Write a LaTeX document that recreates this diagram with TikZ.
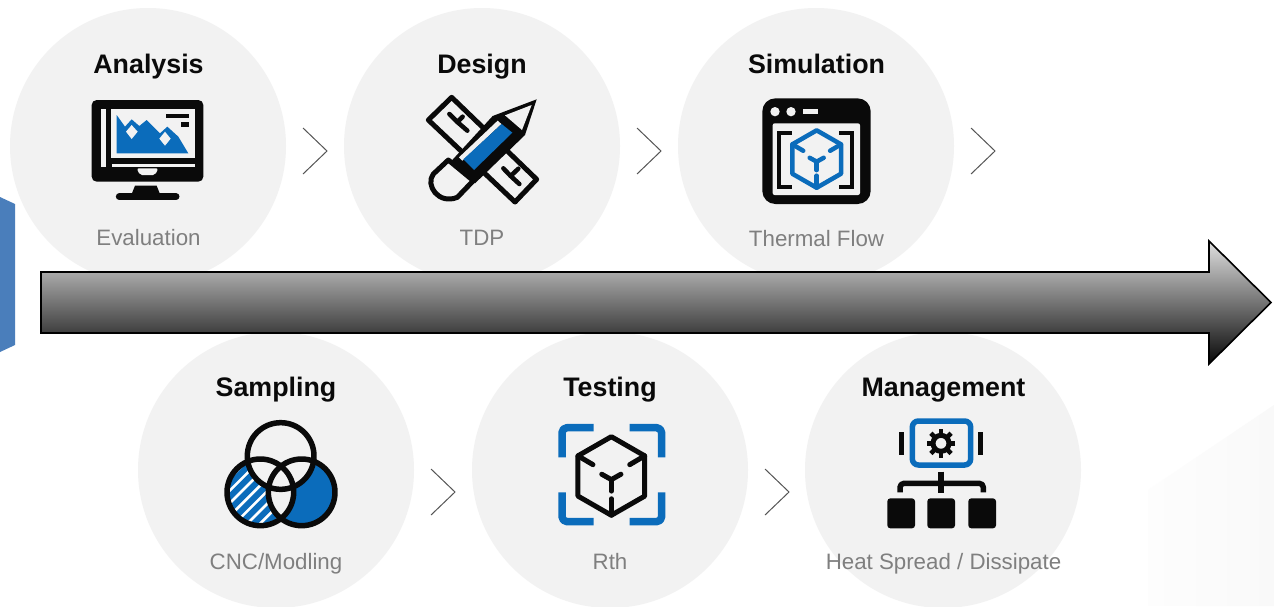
\documentclass[tikz,border=0pt]{standalone}
\usepackage{fontspec}
\setmainfont{Liberation Sans}
\definecolor{disc}{HTML}{F2F2F2}
\definecolor{ink}{HTML}{0A0A0A}
\definecolor{iblue}{HTML}{0B6CBB}
\definecolor{lab}{HTML}{7F7F7F}
\definecolor{side}{HTML}{4A7EBB}
\definecolor{chevc}{HTML}{555555}
\definecolor{arrowtop}{HTML}{E0E0E0}
\definecolor{arrowbot}{HTML}{080808}
\definecolor{faintA}{HTML}{FDFDFD}
\definecolor{faintB}{HTML}{F9F9F9}
\newcommand{\chev}[1]{\draw[chevline] (#1)+(0,-23) -- +(24,0) -- +(0,23);}
\newcommand{\cubeicon}[3]{%
  \begin{scope}[line join=round,line cap=round,draw=#1,line width=#3]
    \draw (0,-#2) -- (0.87*#2,-0.5*#2) -- (0.87*#2,0.55*#2) -- (0,1.05*#2) -- (-0.87*#2,0.55*#2) -- (-0.87*#2,-0.5*#2) -- cycle;
    \draw (-0.87*#2,-0.5*#2) -- (-0.48*#2,-0.27*#2);
    \draw (0.87*#2,-0.5*#2) -- (0.48*#2,-0.27*#2);
    \draw (0,1.05*#2) -- (0,0.62*#2);
    \draw (-0.25*#2,-0.02*#2) -- (0,0.12*#2) -- (0.25*#2,-0.02*#2);
    \draw (0,0.12*#2) -- (0,0.42*#2);
  \end{scope}}
\tikzset{
  x=1pt,y=-1pt,
  discnode/.style={circle,fill=disc,draw=none,minimum size=276pt,inner sep=0pt},
  titlelab/.style={anchor=base,inner sep=0pt,text=ink,font=\fontsize{26.8}{30}\selectfont\bfseries},
  sublab/.style={anchor=base,inner sep=0pt,text=lab,font=\fontsize{22.3}{26}\selectfont},
  chevline/.style={draw=chevc,line width=1pt,line join=miter},
  icon/.style={scale=1/3,line join=round},
}
\begin{document}
\begin{tikzpicture}
\useasboundingbox (0,0) rectangle (1274,606);
\fill[white] (0,0) rectangle (1274,606);
% faint corner
\shade[left color=faintA,right color=faintB] (1148,606) -- (1148,490) -- (1274,405) -- (1274,606) -- cycle;
% side tab
\fill[side] (0,197) -- (15,204) -- (15,345) -- (0,352) -- cycle;
% discs
\node[discnode] (dA) at (148,146) {};
\node[discnode] (dB) at (482,146) {};
\node[discnode] (dC) at (816,146) {};
\node[discnode] (dD) at (276,470) {};
\node[discnode] (dE) at (610,470) {};
\node[discnode] (dF) at (943,470) {};
% big arrow
\draw[draw=black,line width=1.6pt,line join=miter,top color=arrowtop,bottom color=arrowbot]
  (41,272) -- (1209,272) -- (1209,241) -- (1271,302.5) -- (1209,364) -- (1209,333) -- (41,333) -- cycle;
% chevrons
\coordinate (c1) at (303,151); \chev{c1}
\coordinate (c2) at (637,151); \chev{c2}
\coordinate (c3) at (971,151); \chev{c3}
\coordinate (c4) at (431,492); \chev{c4}
\coordinate (c5) at (765,492); \chev{c5}
% labels
\node[titlelab] (t1) at (148.5,73.5) {Analysis};
\node[titlelab] (t2) at (482,73.5) {Design};
\node[titlelab] (t3) at (816.5,73.5) {Simulation};
\node[titlelab] (t4) at (276,396.5) {Sampling};
\node[titlelab] (t5) at (610,396.5) {Testing};
\node[titlelab] (t6) at (943.5,396.5) {Management};
\node[sublab] (s1) at (148.5,245) {Evaluation};
\node[sublab] (s2) at (482,245) {TDP};
\node[sublab] (s3) at (816.5,246) {Thermal Flow};
\node[sublab] (s4) at (276,569) {CNC/Modling};
\node[sublab] (s5) at (610,569) {Rth};
\node[sublab] (s6) at (943.5,569) {Heat Spread / Dissipate};
% ---- Analysis icon
\begin{scope}[shift={(80,90)},icon]
  \fill[ink,rounded corners=5pt] (35,30) rectangle (370,275);
  \fill[ink] (165,287) -- (230,287) -- (240,312) -- (155,312) -- cycle;
  \draw[ink,line width=7pt,line cap=round] (118,320) -- (288,320);
  \fill[disc] (62,58) rectangle (78,232);
  \fill[disc] (92,58) rectangle (345,205);
  \fill[disc] (95,222) rectangle (345,232);
  \fill[disc,rounded corners=2pt] (170,235) -- (235,235) -- (225,255) -- (180,255) -- cycle;
  \fill[iblue] (110,75) -- (135,110) -- (155,88) -- (178,108) -- (200,90) -- (240,130) -- (262,110) -- (295,140) -- (325,190) -- (110,190) -- cycle;
  \fill[disc] (155,105) -- (173,125) -- (155,147) -- (138,125) -- cycle;
  \fill[disc] (255,125) -- (272,146) -- (255,167) -- (238,146) -- cycle;
  \fill[ink] (258,72) rectangle (327,84);
  \fill[ink] (303,97) rectangle (327,110);
\end{scope}
% ---- Design icon
\begin{scope}[shift={(420,90)},icon]
  \draw[ink,fill=disc,line width=5pt] (25,90) -- (95,22) -- (350,268) -- (285,336) -- cycle;
  \draw[ink,line width=4.5pt,line cap=round] (88,72) -- (112,96) -- (128,80);
  \draw[ink,line width=4.5pt,line cap=round] (112,96) -- (142,122);
  \draw[ink,line width=4.5pt,line cap=round] (250,235) -- (272,258) -- (295,236);
  \draw[ink,line width=4.5pt,line cap=round] (272,258) -- (298,282);
  % pencil: eraser, body, tip
  \draw[ink,fill=disc,line width=5pt] (85,210) -- (40,252) .. controls (15,285) and (55,345) .. (112,322) -- (160,272) -- cycle;
  \fill[ink] (218,78) -- (350,28) -- (315,135) -- (165,280) -- (95,212) -- cycle;
  \fill[disc] (255,76) -- (335,45) -- (306,120) -- cycle;
  \fill[disc] (233,92) -- (244,102) -- (127,212) -- (117,202) -- cycle;
  \fill[iblue] (245,102) -- (277,128) -- (162,240) -- (130,208) -- cycle;
  \draw[disc,line width=2.5pt] (82,225) -- (137,280);
\end{scope}
% ---- Simulation icon
\begin{scope}[shift={(750,90)},icon]
  \fill[ink,rounded corners=13pt] (37,25) rectangle (362,342);
  \fill[disc,rounded corners=2pt] (68,100) rectangle (330,315);
  \fill[disc] (75,65) circle[radius=14];
  \fill[disc] (123,65) circle[radius=14];
  \fill[disc] (158,57) rectangle (203,73);
  \draw[ink,line width=4pt,line join=miter] (125,130) -- (88,130) -- (88,290) -- (125,290);
  \draw[ink,line width=4pt,line join=miter] (268,130) -- (305,130) -- (305,290) -- (268,290);
  \begin{scope}[shift={(200,205)}]
    \cubeicon{iblue}{84}{4.5pt}
  \end{scope}
\end{scope}
% ---- Sampling icon
\begin{scope}[shift={(215,415)},icon]
  \begin{scope}
    \clip (136,232) circle[radius=100];
    \fill[white] (0,100) rectangle (260,350);
    \foreach \k in {0,...,12}
      \draw[iblue,line width=6pt] (-250+38*\k,350) -- (38*\k,100);
  \end{scope}
  \fill[iblue] (260,232) circle[radius=100];
  \fill[disc] (197,123) circle[radius=100];
  \begin{scope}
    \clip (136,232) circle[radius=100];
    \fill[disc] (260,232) circle[radius=100];
  \end{scope}
  \draw[ink,line width=5.5pt] (197,123) circle[radius=100];
  \draw[ink,line width=5.5pt] (136,232) circle[radius=100];
  \draw[ink,line width=5.5pt] (260,232) circle[radius=100];
\end{scope}
% ---- Testing icon
\begin{scope}[shift={(548,415)},icon]
  \begin{scope}[shift={(190,180)}]
    \cubeicon{ink}{115}{5pt}
  \end{scope}
  \begin{scope}[draw=iblue,line width=7.5pt,rounded corners=5pt]
    \draw (137,38) -- (42,38) -- (42,127);
    \draw (245,38) -- (341,38) -- (341,127);
    \draw (42,232) -- (42,320) -- (137,320);
    \draw (341,232) -- (341,320) -- (245,320);
  \end{scope}
\end{scope}
% ---- Management icon
\begin{scope}[shift={(880,415)},icon]
  \draw[iblue,line width=5.5pt,rounded corners=6pt] (97,18) rectangle (272,150);
  \foreach \a in {0,45,...,315}
    \draw[ink,line width=4.5pt] (183,85) ++(\a:25) -- ++(\a:18);
  \draw[ink,line width=5pt] (183,85) circle[radius=24];
  \fill[ink] (58,50) rectangle (72,120);
  \fill[ink] (295,50) rectangle (310,120);
  \draw[ink,line width=5.5pt,rounded corners=4pt] (60,232) -- (60,205) -- (310,205) -- (310,232);
  \draw[ink,line width=6pt] (183,170) -- (183,235);
  \fill[ink,rounded corners=3pt] (22,250) rectangle (105,340);
  \fill[ink,rounded corners=3pt] (142,250) rectangle (225,340);
  \fill[ink,rounded corners=3pt] (265,250) rectangle (348,340);
\end{scope}
\end{tikzpicture}
\end{document}
